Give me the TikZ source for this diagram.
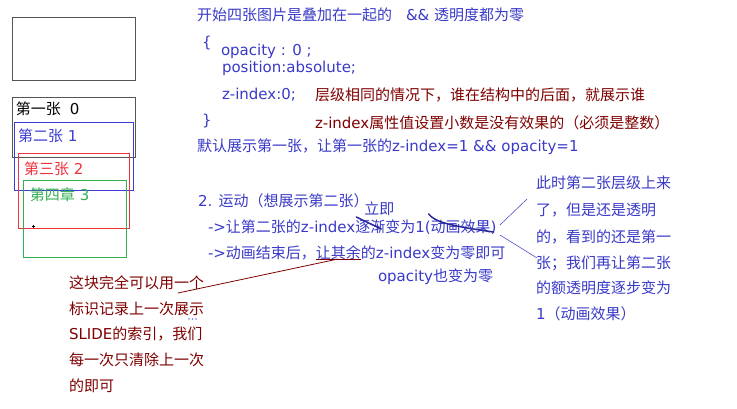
\documentclass[tikz,border=0pt]{standalone}
\usepackage{fontspec}
\setmainfont{Noto Sans CJK SC}
\newfontfamily\latf{DejaVu Sans}
\newcommand\lt[1]{{\latf #1}}
\definecolor{tblue}{RGB}{58,58,200}
\definecolor{tred}{RGB}{128,0,0}
\definecolor{boxgray}{RGB}{85,85,85}
\definecolor{boxblue}{RGB}{60,60,210}
\definecolor{boxred}{RGB}{240,50,60}
\definecolor{boxgreen}{RGB}{50,175,80}
\definecolor{strike}{RGB}{40,40,150}
\begin{document}
\begin{tikzpicture}[x=1pt,y=-1pt,
  txt/.style={anchor=base west,inner sep=0pt,outer sep=0pt,font=\fontsize{15}{18}\selectfont},
  bt/.style={txt,text=tblue},
  rt/.style={txt,text=tred},
  frame/.style={line width=0.9pt}]
\useasboundingbox (0,0) rectangle (737,408);
\fill[white] (0,0) rectangle (737,408);

% stacked boxes
\draw[frame,draw=boxgray] (12,17) rectangle (135,80);
\draw[frame,draw=boxgray] (12,97) rectangle (135,157);
\node[txt,text=black] (s0) at (16,114) {第一张\hspace{0.6em}\lt{0}};
\draw[frame,draw=boxblue] (14,122) rectangle (133,190);
\node[txt,text=boxblue] (s1) at (18,141) {第二张\lt{ 1}};
\draw[frame,draw=boxred] (18,153) rectangle (129,228);
\node[txt,text=boxred] (s2) at (24,174) {第三张\lt{ 2}};
\draw[frame,draw=boxgreen] (23,180) rectangle (126,257);
\node[txt,text=boxgreen] (s3) at (30,200) {第四章\lt{ 3}};
\draw[line width=0.5pt] (31.5,226) -- (34.5,226) (33,224.5) -- (33,227.5);

% top text block
\node[bt] (t1) at (197,20) {开始四张图片是叠加在一起的\hspace{14pt}\lt{\&\& }透明度都为零};
\node[bt] (t2) at (202,47) {\lt{\{}};
\node[bt] (t3) at (221,55) {\lt{opacity : 0 ;}};
\node[bt] (t4) at (222,72) {\lt{position:absolute;}};
\node[bt] (t5) at (222,99) {\lt{z-index:0;}};
\node[rt] (t6) at (315,100) {层级相同的情况下，谁在结构中的后面，就展示谁};
\node[bt] (t7) at (202,125) {\lt{\}}};
\node[rt] (t8) at (315,128) {\lt{z-index}属性值设置小数是没有效果的（必须是整数）};
\node[bt] (t9) at (197,151) {默认展示第一张，让第一张的\lt{z-index=1 \&\& opacity=1}};

% motion block
\node[bt] (m1) at (198,206) {\lt{2. }运动（想展示第二张）};
\node[bt] (m2a) at (208,232) {\lt{->}让第二张的\lt{z-index}};
\node[bt] (m2b) at (m2a.base east) {逐渐};
\node[bt] (m2c) at (m2b.base east) {变为\lt{1(}};
\node[bt] (m2d) at (m2c.base east) {动画效果\lt{)}};
\node[bt] (li) at ([xshift=9pt,yshift=18pt]m2b.base west) {立即};
\node[bt] (m3a) at (208,258) {\lt{->}动画结束后，};
\node[bt] (m3b) at (m3a.base east) {让其余};
\node[bt] (m3c) at (m3b.base east) {的\lt{z-index}变为零即可};
\node[bt] (m4) at (378,281) {\lt{opacity}也变为零};

% strikes
\draw[strike,line width=1.5pt,line cap=round] ([xshift=1pt,yshift=15pt]m2b.base west) -- ([xshift=-4pt,yshift=3pt]m2b.base east);
\draw[strike,line width=1.5pt,line cap=round] ([xshift=-2pt,yshift=18pt]m2d.base west)
  .. controls ([xshift=4pt,yshift=10pt]m2d.base west) and ([xshift=20pt,yshift=6pt]m2d.base west) .. ([xshift=-3pt,yshift=0pt]m2d.base east);

% underline + red connector
\draw[tred,line width=0.8pt] ([yshift=-1.5pt]m3b.base west) -- ([yshift=-1.5pt]m3b.base east);
\coordinate (ua) at ([xshift=22pt,yshift=-1pt]m3b.base west);
\coordinate (ub) at (178,293);
\draw[tred,line width=0.8pt] (ua) -- (ub);

% right column
\node[bt] (r1) at (536,188) {此时第二张层级上来};
\node[bt] (r2) at (536,215) {了，但是还是透明};
\node[bt] (r3) at (536,242) {的，看到的还是第一};
\node[bt] (r4) at (536,268) {张；我们再让第二张};
\node[bt] (r5) at (536,293) {的额透明度逐步变为};
\node[bt] (r6) at (536,319) {\lt{1}（动画效果）};
\coordinate (la) at (527,199);
\coordinate (lb) at (500,225);
\coordinate (lc) at (500,235);
\coordinate (ld) at (537,258);
\draw[tblue,line width=0.5pt] (la) -- (lb);
\draw[tblue,line width=0.5pt] (lc) -- (ld);

% bottom-left note
\node[rt] (b1) at (69,288) {这块完全可以用一个};
\node[rt] (b2) at (69,314) {标识记录上一次展示};
\node[rt] (b3) at (69,339) {\lt{SLIDE}的索引，我们};
\node[rt] (b4) at (69,365) {每一次只清除上一次};
\node[rt] (b5) at (69,391) {的即可};
\foreach \xx in {189,192.5,196} \fill[boxblue!70] (\xx,319) circle (0.8pt);
\end{tikzpicture}
\end{document}
